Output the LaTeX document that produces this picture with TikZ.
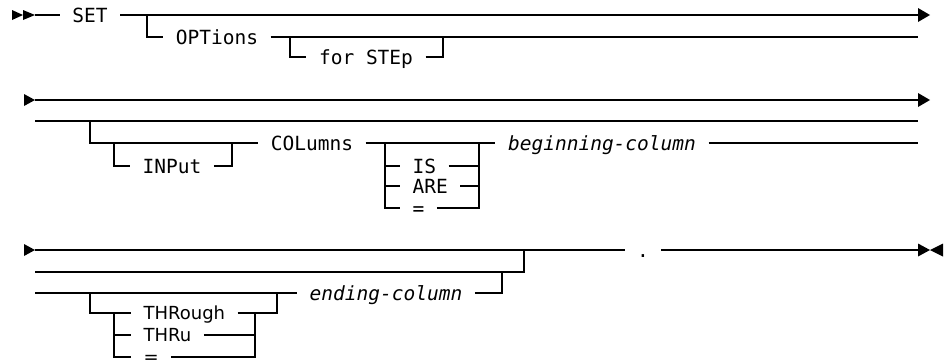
\documentclass[tikz,border=0pt]{standalone}
\usepackage{fontspec}
\usepackage{tikz}
\usetikzlibrary{calc}
\newfontfamily\kwfont{DejaVu Sans Mono}
\newfontfamily\optfont{DejaVu Sans}

\begin{document}
\begin{tikzpicture}[x=1pt, y=-1pt, line width=1.2pt,
    kw/.style={font=\kwfont\fontsize{19.5}{22}\selectfont, inner xsep=12pt,
      inner ysep=0pt, text height=14pt, text depth=0pt},
    var/.style={kw, font=\kwfont\itshape\fontsize{19.5}{22}\selectfont},
    alt/.style={font=\optfont\fontsize{18}{21}\selectfont, inner xsep=12pt,
      inner ysep=0pt, text height=13pt, text depth=0pt, anchor=west}
  ]
    \useasboundingbox (0,0) rectangle (944,360);

    % first row: SET [OPTions [for STEp]]
    \node[kw] (set) at (90,15) {SET};
    \node[kw] (opts) at (217,37) {OPTions};
    \node[kw] (step) at (366,57) {for STEp};

    \coordinate (r1in) at (35,15);
    \coordinate (r1out) at (930,15);
    \coordinate (r1b) at (918,37);
    \coordinate (optj) at (147,15);
    \coordinate (stepj) at (290,37);
    \coordinate (stepk) at (443,37);

    \fill (r1in) -- ++(-12,-5) -- ++(0,10) -- cycle;
    \fill ($(r1in)+(-12,0)$) -- ++(-11,-5) -- ++(0,10) -- cycle;
    \draw (r1in) -- (set.west);
    \draw[shorten >=6pt] (set.east) -- (r1out);
    \fill (r1out) -- ++(-12,-7) -- ++(0,14) -- cycle;
    \draw (optj) |- (opts.west);
    \draw (opts.east) -- (r1b);
    \draw (stepj) |- (step.west);
    \draw (step.east) -| (stepk);

    % second row: [[INPut] COLumns [IS|ARE|=] beginning-column]
    \node[kw] (input) at (172,166) {INPut};
    \node[kw] (cols) at (312,143) {COLumns};
    \node[kw, anchor=west] (is) at (400,166) {IS};
    \node[kw, anchor=west] (are) at (400,186) {ARE};
    \node[kw, anchor=west] (eqa) at (400,208) {=};
    \node[var] (begcol) at (602,143) {beginning-column};

    \coordinate (r2in) at (35,100);
    \coordinate (r2out) at (930,100);
    \coordinate (r2a) at (35,121);
    \coordinate (r2b) at (918,121);
    \coordinate (r2c) at (918,143);
    \coordinate (colj) at (90,121);
    \coordinate (inj) at (114,143);
    \coordinate (ink) at (232,143);
    \coordinate (isl) at (385,143);
    \coordinate (isr) at (479,143);

    \fill (r2in) -- ++(-11,-6) -- ++(0,12) -- cycle;
    \draw[shorten >=6pt] (r2in) -- (r2out);
    \fill (r2out) -- ++(-12,-7) -- ++(0,14) -- cycle;
    \draw (r2a) -- (r2b);
    \draw (colj) |- (cols.west);
    \draw (inj) |- (input.west);
    \draw (input.east) -| (ink);
    \draw (cols.east) -- (begcol.west);
    \draw (begcol.east) -- (r2c);
    \foreach \n in {is,are,eqa} {
      \draw (isl) |- (\n.west);
      \draw (\n.east) -| (isr);
    }

    % third row: [[THRough|THRu|=] ending-column] .
    \node[kw] (stop) at (643,250) {.};
    \node[var] (endcol) at (386,293) {ending-column};
    \node[alt] (through) at (131,313) {THRough};
    \node[alt] (thru) at (131,335) {THRu};
    \node[alt] (eqb) at (131,357) {=};

    \coordinate (r3in) at (35,250);
    \coordinate (r3out) at (930,250);
    \coordinate (r3a) at (35,272);
    \coordinate (r3k) at (524,250);
    \coordinate (r3b) at (35,293);
    \coordinate (endk) at (502,272);
    \coordinate (thj) at (90,293);
    \coordinate (thl) at (114,313);
    \coordinate (thr) at (255,313);
    \coordinate (thk) at (277,293);

    \fill (r3in) -- ++(-11,-6) -- ++(0,12) -- cycle;
    \draw (r3in) -- (stop.west);
    \draw[shorten >=6pt] (stop.east) -- (r3out);
    \fill (r3out) -- ++(-12,-6.5) -- ++(0,13) -- cycle;
    \fill (r3out) -- ++(13,-6.5) -- ++(0,13) -- cycle;
    \draw (r3a) -| (r3k);
    \draw (r3b) -- (endcol.west);
    \draw (endcol.east) -| (endk);
    \draw (thj) |- (through.west);
    \draw (through.east) -| (thk);
    \foreach \n in {thru,eqb} {
      \draw (thl) |- (\n.west);
      \draw (\n.east) -| (thr);
    }
  \end{tikzpicture}
\end{document}
